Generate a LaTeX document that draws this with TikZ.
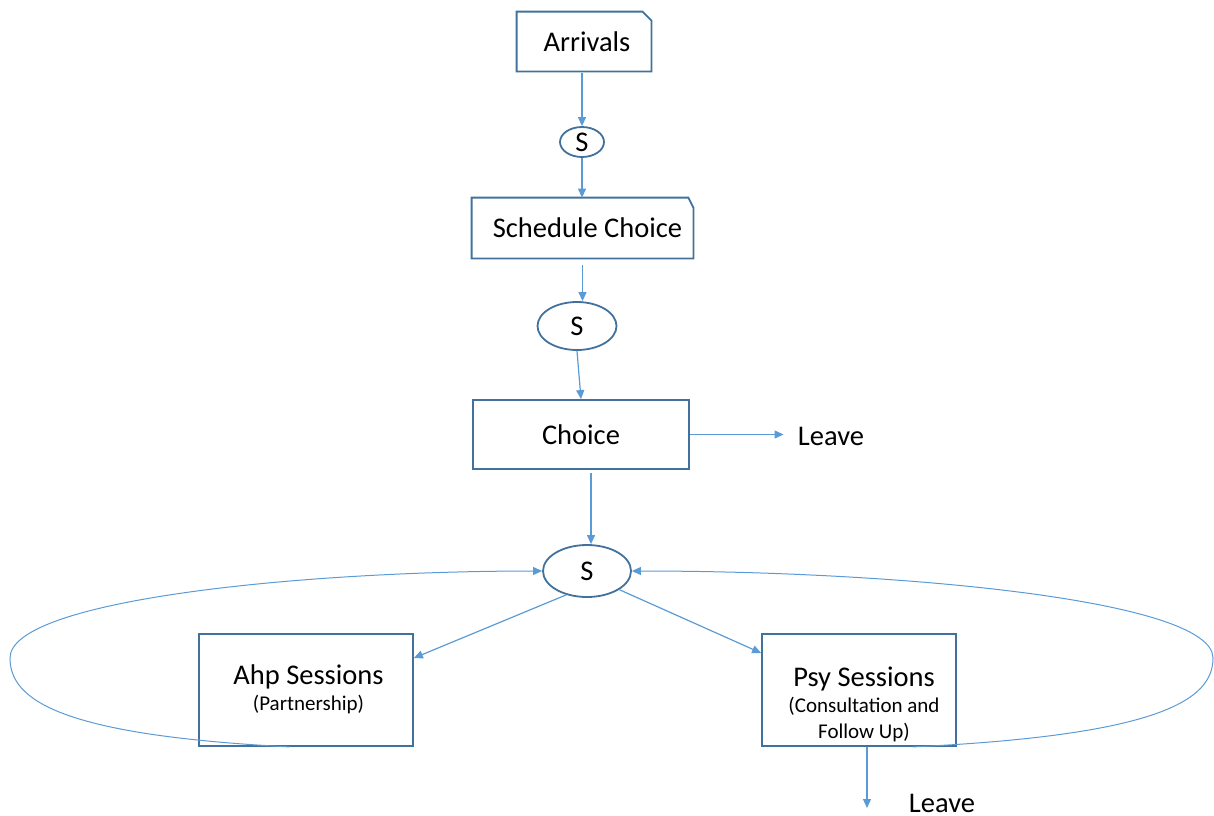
\documentclass[tikz,border=0pt]{standalone}
\usepackage{fontspec}
\setmainfont{Carlito}
\usetikzlibrary{arrows.meta,shapes.geometric}

\definecolor{flowblue}{RGB}{91,155,213}
\definecolor{edgeblue}{RGB}{65,113,156}

\newcommand\fsmain{\fontsize{14.25}{17}\selectfont}
\newcommand\fsnote{\fontsize{10.5}{13}\selectfont}

\tikzset{
  flow/.style={draw=flowblue, line width=0.6pt, -{Triangle[length=4.5pt,width=4pt]}},
  loopflow/.style={draw=flowblue, line width=0.5pt, -{Triangle[length=4.5pt,width=4pt]}},
  box/.style={draw=edgeblue, line width=0.9pt, rectangle, inner sep=0pt, font=\fsmain},
  foldbox/.style={rectangle, inner sep=0pt, font=\fsmain},
  foldline/.style={draw=edgeblue, line width=0.9pt},
  station/.style={draw=edgeblue, line width=0.9pt, ellipse, inner sep=0pt, font=\fsmain},
  plaintext/.style={inner sep=0pt, font=\fsmain},
  sessiontext/.style={inner sep=0pt, align=center, font=\fsnote},
}

\begin{document}
\begin{tikzpicture}[x=0.5pt, y=-0.5pt]
  \useasboundingbox (0,0) rectangle (1214,815);

  % boxes with a folded top-right corner
  \node[foldbox, minimum width=67pt, minimum height=29.5pt] (arr) at (584,41.5) {\raisebox{-1.5pt}{\hspace*{3pt}Arrivals}};
  \draw[foldline] (arr.south west) -- (arr.south east) -- ([yshift=-4.5pt]arr.north east)
    -- ([xshift=-4.5pt]arr.north east) -- (arr.north west) -- cycle;

  \node[foldbox, minimum width=110.5pt, minimum height=30pt] (sch) at (582.5,228) {\hspace*{5pt}Schedule Choice};
  \draw[foldline] (sch.south west) -- (sch.south east) -- ([yshift=-5pt]sch.north east)
    -- ([xshift=-2.5pt]sch.north east) -- (sch.north west) -- cycle;

  % queues
  \node[station, minimum width=22pt, minimum height=15pt] (s1) at (582,142) {S};
  \node[station, minimum width=39.5pt, minimum height=24pt] (s2) at (577,326) {S};
  \node[station, minimum width=44pt, minimum height=26pt] (s3) at (587,571) {S};

  % activities
  \node[box, minimum width=108pt, minimum height=34.5pt] (ch) at (581,434.5) {Choice};
  \node[box, minimum width=107pt, minimum height=56pt] (ahp) at (306,690) {};
  \node[sessiontext] (ahptext) at (308.5,689)
    {{\fsmain Ahp Sessions}\\(Partnership)};
  \node[box, minimum width=97pt, minimum height=56pt] (psy) at (859,690) {};
  \node[sessiontext] (psytext) at (864,704)
    {{\fsmain Psy Sessions}\\(Consultation and\\Follow Up)};

  % exits
  \node[plaintext] (lv1) at (831,436) {Leave};
  \node[plaintext] (lv2) at (942,803) {Leave};
  \coordinate (psyout) at (867,808);

  % main flow
  \draw[flow] ([yshift=-1pt]s1 |- arr.south) -- (s1.north);
  \draw[flow] (s1.south) -- (s1 |- sch.north);
  \draw[flow] ([yshift=-3.5pt]sch.south) -- (sch.south |- s2.north);
  \draw[flow] (s2.south) -- (ch.north);
  \draw[flow, shorten >=7pt] (ch.east) -- (ch.east -| lv1.west);
  \draw[flow] ([xshift=5pt,yshift=-1.5pt]ch.south) -- ([xshift=5pt]ch.south |- s3.north);
  \draw[flow] (s3.229) -- ([yshift=16pt]ahp.east);
  \draw[flow] (s3.330) -- ([yshift=18.5pt]psy.west);
  \draw[flow] (psy.south -| psyout) -- (psyout);

  % returns to the session queue
  \draw[loopflow] ([xshift=-8.25pt]ahp.south) .. controls (60,735) and (10,700) .. (10,658)
    .. controls (10,600) and (300,571) .. (s3.west);
  \draw[loopflow] ([xshift=27pt]psy.south) .. controls (1160,735) and (1213,700) .. (1213,658)
    .. controls (1213,600) and (900,571) .. (s3.east);
\end{tikzpicture}
\end{document}
